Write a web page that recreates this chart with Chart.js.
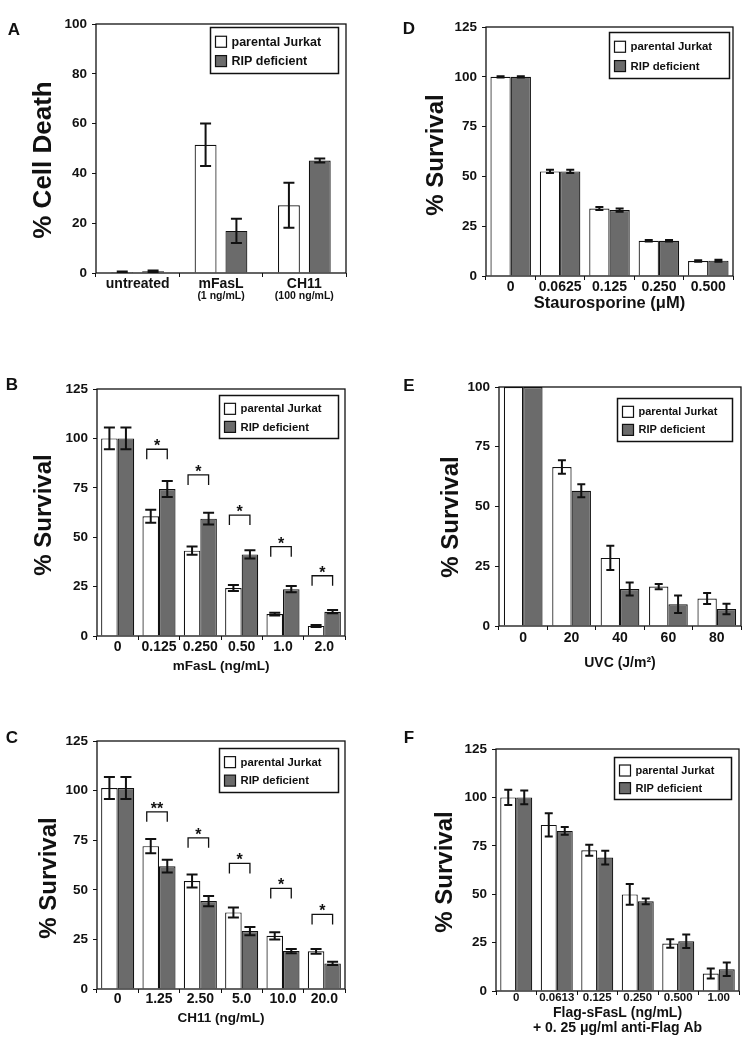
<!DOCTYPE html>
<html>
<head>
<meta charset="utf-8">
<title>parental Jurkat vs RIP deficient</title>
<script src="https://cdn.jsdelivr.net/npm/chart.js@4.4.1/dist/chart.umd.min.js"></script>
<style>
	html, body { margin: 0; padding: 0; background: #fff; }
	#figure { position: relative; width: 744px; height: 1050px; overflow: hidden; }
	#figure canvas { position: absolute; }
</style>
</head>
<body>
<div id="figure"></div>
<script>
const SERIES = ["parental Jurkat", "RIP deficient"];

// A - % cell death
const catsA = ["untreated", "mFasL", "CH11"];
const subCatsA = ["", "(1 ng/mL)", "(100 ng/mL)"];
const jurkatA = [0.4, 51.5, 27.2];
const jurkatErrA = [0.2, 8.5, 9.0];
const ripA = [0.7, 16.9, 45.2];
const ripErrA = [0.3, 4.9, 0.8];

// B - mFasL
const catsB = ["0", "0.125", "0.250", "0.50", "1.0", "2.0"];
const jurkatB = [100, 60.6, 43.2, 24.3, 11.1, 5.1];
const jurkatErrB = [5.5, 3.3, 2.1, 1.5, 0.7, 0.5];
const ripB = [100, 74.4, 59.4, 41.3, 23.7, 12.3];
const ripErrB = [5.5, 4.0, 3.0, 2.1, 1.6, 0.8];
const bracketTopsB = [null, 94.5, 81.5, 61.2, 45.2, 30.5];
const bracketMarksB = ["", "*", "*", "*", "*", "*"];

// C - CH11
const catsC = ["0", "1.25", "2.50", "5.0", "10.0", "20.0"];
const jurkatC = [101.3, 72.0, 54.4, 38.6, 26.8, 19.0];
const jurkatErrC = [5.5, 3.6, 3.3, 2.5, 1.8, 1.2];
const ripC = [101.3, 61.9, 44.3, 29.2, 19.1, 12.9];
const ripErrC = [5.5, 3.2, 2.6, 2.1, 1.1, 0.8];
const bracketTopsC = [null, 89.3, 76.2, 63.3, 50.7, 37.6];
const bracketMarksC = ["", "**", "*", "*", "*", "*"];

// D - staurosporine
const catsD = ["0", "0.0625", "0.125", "0.250", "0.500"];
const jurkatD = [100, 52.5, 33.9, 17.7, 7.5];
const jurkatErrD = [0.3, 0.8, 0.8, 0.4, 0.4];
const ripD = [100, 52.5, 33.1, 17.7, 7.7];
const ripErrD = [0.3, 0.8, 0.8, 0.4, 0.5];

// E - UVC
const catsE = ["0", "20", "40", "60", "80"];
const jurkatE = [100, 66.5, 28.5, 16.5, 11.5];
const jurkatErrE = [0, 2.8, 5.1, 1.1, 2.3];
const ripE = [100, 56.6, 15.5, 9.1, 7.1];
const ripErrE = [0, 2.7, 2.7, 3.7, 2.2];

// F - Flag-sFasL
const catsF = ["0", "0.0613", "0.125", "0.250", "0.500", "1.00"];
const jurkatF = [100, 85.8, 72.7, 49.9, 24.5, 9.0];
const jurkatErrF = [3.9, 6.0, 2.8, 5.4, 2.2, 2.6];
const ripF = [100, 82.7, 68.9, 46.3, 25.7, 11.2];
const ripErrF = [3.5, 2.0, 3.5, 1.5, 3.5, 3.5];

const FONT = '"Liberation Sans", Arial, Helvetica, sans-serif';
const INK = "#111111";
const GREY = "#6b6b6b";
const Y_AXIS_W = 40;

function makeDecor(cfg) {
	return {
		id: "decor",
		afterDatasetsDraw(chart) {
			const { ctx, chartArea: area } = chart;
			const y = chart.scales.y;
			const x = chart.scales.x;

			// error bars
			ctx.save();
			ctx.beginPath();
			ctx.rect(area.left, area.top, area.right - area.left, area.bottom - area.top);
			ctx.clip();
			ctx.strokeStyle = INK;
			ctx.lineWidth = 2;
			chart.data.datasets.forEach((ds, i) => {
				const meta = chart.getDatasetMeta(i);
				ds.data.forEach((v, j) => {
					const e = ds.errors[j];
					if (!e) return;
					const cx = meta.data[j].x;
					const hi = y.getPixelForValue(v + e);
					const lo = y.getPixelForValue(v - e);
					const c = cfg.capWidth / 2;
					ctx.beginPath();
					ctx.moveTo(cx, hi);
					ctx.lineTo(cx, lo);
					ctx.moveTo(cx - c, hi);
					ctx.lineTo(cx + c, hi);
					ctx.moveTo(cx - c, lo);
					ctx.lineTo(cx + c, lo);
					ctx.stroke();
				});
			});
			ctx.restore();

			ctx.save();
			// significance brackets
			if (cfg.brackets) {
				const m0 = chart.getDatasetMeta(0);
				const m1 = chart.getDatasetMeta(1);
				ctx.strokeStyle = INK;
				ctx.lineWidth = 1.3;
				ctx.fillStyle = INK;
				ctx.font = "bold 16px " + FONT;
				ctx.textAlign = "center";
				ctx.textBaseline = "alphabetic";
				cfg.brackets.tops.forEach((top, j) => {
					if (top == null) return;
					const x1 = m0.data[j].x - 4;
					const x2 = m1.data[j].x;
					const yt = y.getPixelForValue(top);
					ctx.beginPath();
					ctx.moveTo(x1, yt + 10);
					ctx.lineTo(x1, yt);
					ctx.lineTo(x2, yt);
					ctx.lineTo(x2, yt + 10);
					ctx.stroke();
					ctx.fillText(cfg.brackets.marks[j], (x1 + x2) / 2, yt + 2);
				});
			}

			// frame
			ctx.strokeStyle = INK;
			ctx.lineWidth = 1.3;
			ctx.strokeRect(area.left, area.top, area.right - area.left, area.bottom - area.top);

			// legend box
			const lg = cfg.legend;
			const lx = lg.x - cfg.box.x;
			const ly = lg.y - cfg.box.y;
			ctx.fillStyle = "#fff";
			ctx.fillRect(lx, ly, lg.w, lg.h);
			ctx.lineWidth = 1.5;
			ctx.strokeRect(lx, ly, lg.w, lg.h);
			ctx.font = "bold " + lg.size + "px " + FONT;
			ctx.textAlign = "left";
			ctx.textBaseline = "middle";
			chart.data.datasets.forEach((ds, i) => {
				const cy = ly + lg.h * (i === 0 ? 0.31 : 0.73);
				ctx.fillStyle = ds.backgroundColor;
				ctx.fillRect(lx + 5, cy - 5.5, 11, 11);
				ctx.lineWidth = 1.2;
				ctx.strokeRect(lx + 5, cy - 5.5, 11, 11);
				ctx.fillStyle = INK;
				ctx.fillText(ds.label, lx + 21, cy + 0.5);
			});

			// sub labels under categories
			if (cfg.subLabels) {
				ctx.font = "bold 10.5px " + FONT;
				ctx.textAlign = "center";
				ctx.fillStyle = INK;
				cfg.subLabels.forEach((s, j) => {
					if (s) ctx.fillText(s, x.getPixelForValue(j), area.bottom + 23);
				});
			}

			// panel letter and y title
			ctx.fillStyle = INK;
			ctx.font = "bold 17px " + FONT;
			ctx.textAlign = "center";
			ctx.fillText(cfg.letter.text, cfg.letter.x - cfg.box.x, cfg.letter.y - cfg.box.y);
			ctx.translate(cfg.yTitle.x - cfg.box.x, cfg.yTitle.y - cfg.box.y);
			ctx.rotate(-Math.PI / 2);
			ctx.font = "bold " + cfg.yTitle.size + "px " + FONT;
			ctx.fillText(cfg.yTitle.text, 0, 0);
			ctx.restore();
		},
	};
}

function buildPanel(cfg) {
	const canvas = document.createElement("canvas");
	canvas.width = cfg.box.w;
	canvas.height = cfg.box.h;
	canvas.style.left = cfg.box.x + "px";
	canvas.style.top = cfg.box.y + "px";
	document.getElementById("figure").appendChild(canvas);

	const bar = {
		borderColor: INK,
		borderWidth: 1.2,
		categoryPercentage: cfg.catPct,
		barPercentage: cfg.barPct,
	};
	const xTitle = cfg.xTitle || { text: "", size: 14, off: 30, lh: 1.2 };
	const lines = Array.isArray(xTitle.text) ? xTitle.text.length : 1;
	const lh = xTitle.size * xTitle.lh;

	return new Chart(canvas, {
		type: "bar",
		data: {
			labels: cfg.labels,
			datasets: [
				{ ...bar, label: SERIES[0], data: cfg.jurkat, errors: cfg.jurkatErr, backgroundColor: "#ffffff" },
				{ ...bar, label: SERIES[1], data: cfg.rip, errors: cfg.ripErr, backgroundColor: GREY },
			],
		},
		options: {
			responsive: false,
			animation: false,
			layout: {
				padding: {
					left: cfg.plot.l - cfg.box.x - Y_AXIS_W,
					top: cfg.plot.t - cfg.box.y,
					right: cfg.box.x + cfg.box.w - cfg.plot.r,
					bottom: cfg.box.y + cfg.box.h - cfg.plot.b - cfg.xAxisH,
				},
			},
			plugins: {
				legend: { display: false },
				tooltip: { enabled: false },
			},
			scales: {
				x: {
					border: { display: false },
					grid: { offset: true, drawOnChartArea: false, tickLength: 4, color: INK },
					ticks: {
						color: INK,
						padding: cfg.tickOff - 4 - cfg.tickSize / 2,
						maxRotation: 0,
						autoSkip: false,
						font: { family: FONT, size: cfg.tickSize, weight: "bold", lineHeight: 1 },
					},
					title: {
						display: !!cfg.xTitle,
						text: xTitle.text,
						color: INK,
						font: { family: FONT, size: xTitle.size, weight: "bold", lineHeight: xTitle.lh },
						padding: { top: 0, bottom: cfg.xAxisH - xTitle.off - lh / 2 - lh * (lines - 1) },
					},
					afterFit: (s) => {
						s.height = cfg.xAxisH;
					},
				},
				y: {
					min: 0,
					max: cfg.yMax,
					border: { display: false },
					grid: { drawOnChartArea: false, tickLength: 4, color: INK },
					ticks: {
						stepSize: cfg.yStep,
						color: INK,
						padding: 5,
						font: { family: FONT, size: 13.5, weight: "bold" },
					},
					afterFit: (s) => {
						s.width = Y_AXIS_W;
					},
				},
			},
		},
		plugins: [makeDecor(cfg)],
	});
}

buildPanel({
	box: { x: 0, y: 0, w: 372, h: 310 },
	plot: { l: 96, t: 24, r: 346, b: 273 },
	xAxisH: 30,
	labels: catsA, subLabels: subCatsA,
	jurkat: jurkatA, jurkatErr: jurkatErrA, rip: ripA, ripErr: ripErrA,
	yMax: 100, yStep: 20,
	catPct: 0.74, barPct: 0.71, capWidth: 11,
	tickSize: 14, tickOff: 11,
	letter: { text: "A", x: 14, y: 30 },
	yTitle: { text: "% Cell Death", size: 26, x: 44, y: 160 },
	legend: { x: 210.5, y: 27.5, w: 128, h: 46, size: 12.5 },
});

buildPanel({
	box: { x: 0, y: 315, w: 372, h: 375 },
	plot: { l: 97, t: 389, r: 345, b: 636 },
	xAxisH: 50,
	labels: catsB,
	jurkat: jurkatB, jurkatErr: jurkatErrB, rip: ripB, ripErr: ripErrB,
	brackets: { tops: bracketTopsB, marks: bracketMarksB },
	yMax: 125, yStep: 25,
	catPct: 0.8, barPct: 1, capWidth: 11,
	tickSize: 14, tickOff: 11,
	xTitle: { text: "mFasL (ng/mL)", size: 13.5, off: 30, lh: 1.2 },
	letter: { text: "B", x: 12, y: 385 },
	yTitle: { text: "% Survival", size: 24, x: 44, y: 515 },
	legend: { x: 219.5, y: 395.5, w: 119, h: 43, size: 11.3 },
});

buildPanel({
	box: { x: 0, y: 690, w: 372, h: 360 },
	plot: { l: 97, t: 741, r: 345, b: 989 },
	xAxisH: 50,
	labels: catsC,
	jurkat: jurkatC, jurkatErr: jurkatErrC, rip: ripC, ripErr: ripErrC,
	brackets: { tops: bracketTopsC, marks: bracketMarksC },
	yMax: 125, yStep: 25,
	catPct: 0.8, barPct: 1, capWidth: 11,
	tickSize: 14, tickOff: 10,
	xTitle: { text: "CH11 (ng/mL)", size: 13.5, off: 29, lh: 1.2 },
	letter: { text: "C", x: 12, y: 738 },
	yTitle: { text: "% Survival", size: 24, x: 49, y: 878 },
	legend: { x: 219.5, y: 748.5, w: 119, h: 44, size: 11.3 },
});

buildPanel({
	box: { x: 372, y: 0, w: 372, h: 315 },
	plot: { l: 486, t: 27, r: 733, b: 276 },
	xAxisH: 38,
	labels: catsD,
	jurkat: jurkatD, jurkatErr: jurkatErrD, rip: ripD, ripErr: ripErrD,
	yMax: 125, yStep: 25,
	catPct: 0.82, barPct: 1, capWidth: 8,
	tickSize: 14, tickOff: 11.5,
	xTitle: { text: "Staurosporine (μM)", size: 16.5, off: 27, lh: 1.2 },
	letter: { text: "D", x: 409, y: 29 },
	yTitle: { text: "% Survival", size: 24, x: 436, y: 155 },
	legend: { x: 609.5, y: 32.5, w: 120, h: 46, size: 11.4 },
});

buildPanel({
	box: { x: 372, y: 315, w: 372, h: 375 },
	plot: { l: 499, t: 387, r: 741, b: 626 },
	xAxisH: 50,
	labels: catsE,
	jurkat: jurkatE, jurkatErr: jurkatErrE, rip: ripE, ripErr: ripErrE,
	yMax: 100, yStep: 25,
	catPct: 0.8, barPct: 1, capWidth: 8,
	tickSize: 14, tickOff: 12,
	xTitle: { text: "UVC (J/m²)", size: 14, off: 37, lh: 1.2 },
	letter: { text: "E", x: 409, y: 386 },
	yTitle: { text: "% Survival", size: 24, x: 451, y: 517 },
	legend: { x: 617.5, y: 398.5, w: 115, h: 43, size: 11 },
});

buildPanel({
	box: { x: 372, y: 690, w: 372, h: 360 },
	plot: { l: 496, t: 749, r: 739, b: 991 },
	xAxisH: 50,
	labels: catsF,
	jurkat: jurkatF, jurkatErr: jurkatErrF, rip: ripF, ripErr: ripErrF,
	yMax: 125, yStep: 25,
	catPct: 0.79, barPct: 1, capWidth: 8,
	tickSize: 11.5, tickOff: 7,
	xTitle: { text: ["Flag-sFasL (ng/mL)", "+ 0. 25 μg/ml anti-Flag Ab"], size: 14, off: 22, lh: 15 / 14 },
	letter: { text: "F", x: 409, y: 738 },
	yTitle: { text: "% Survival", size: 24, x: 445, y: 872 },
	legend: { x: 614.5, y: 757.5, w: 117, h: 42, size: 11 },
});
</script>
</body>
</html>
